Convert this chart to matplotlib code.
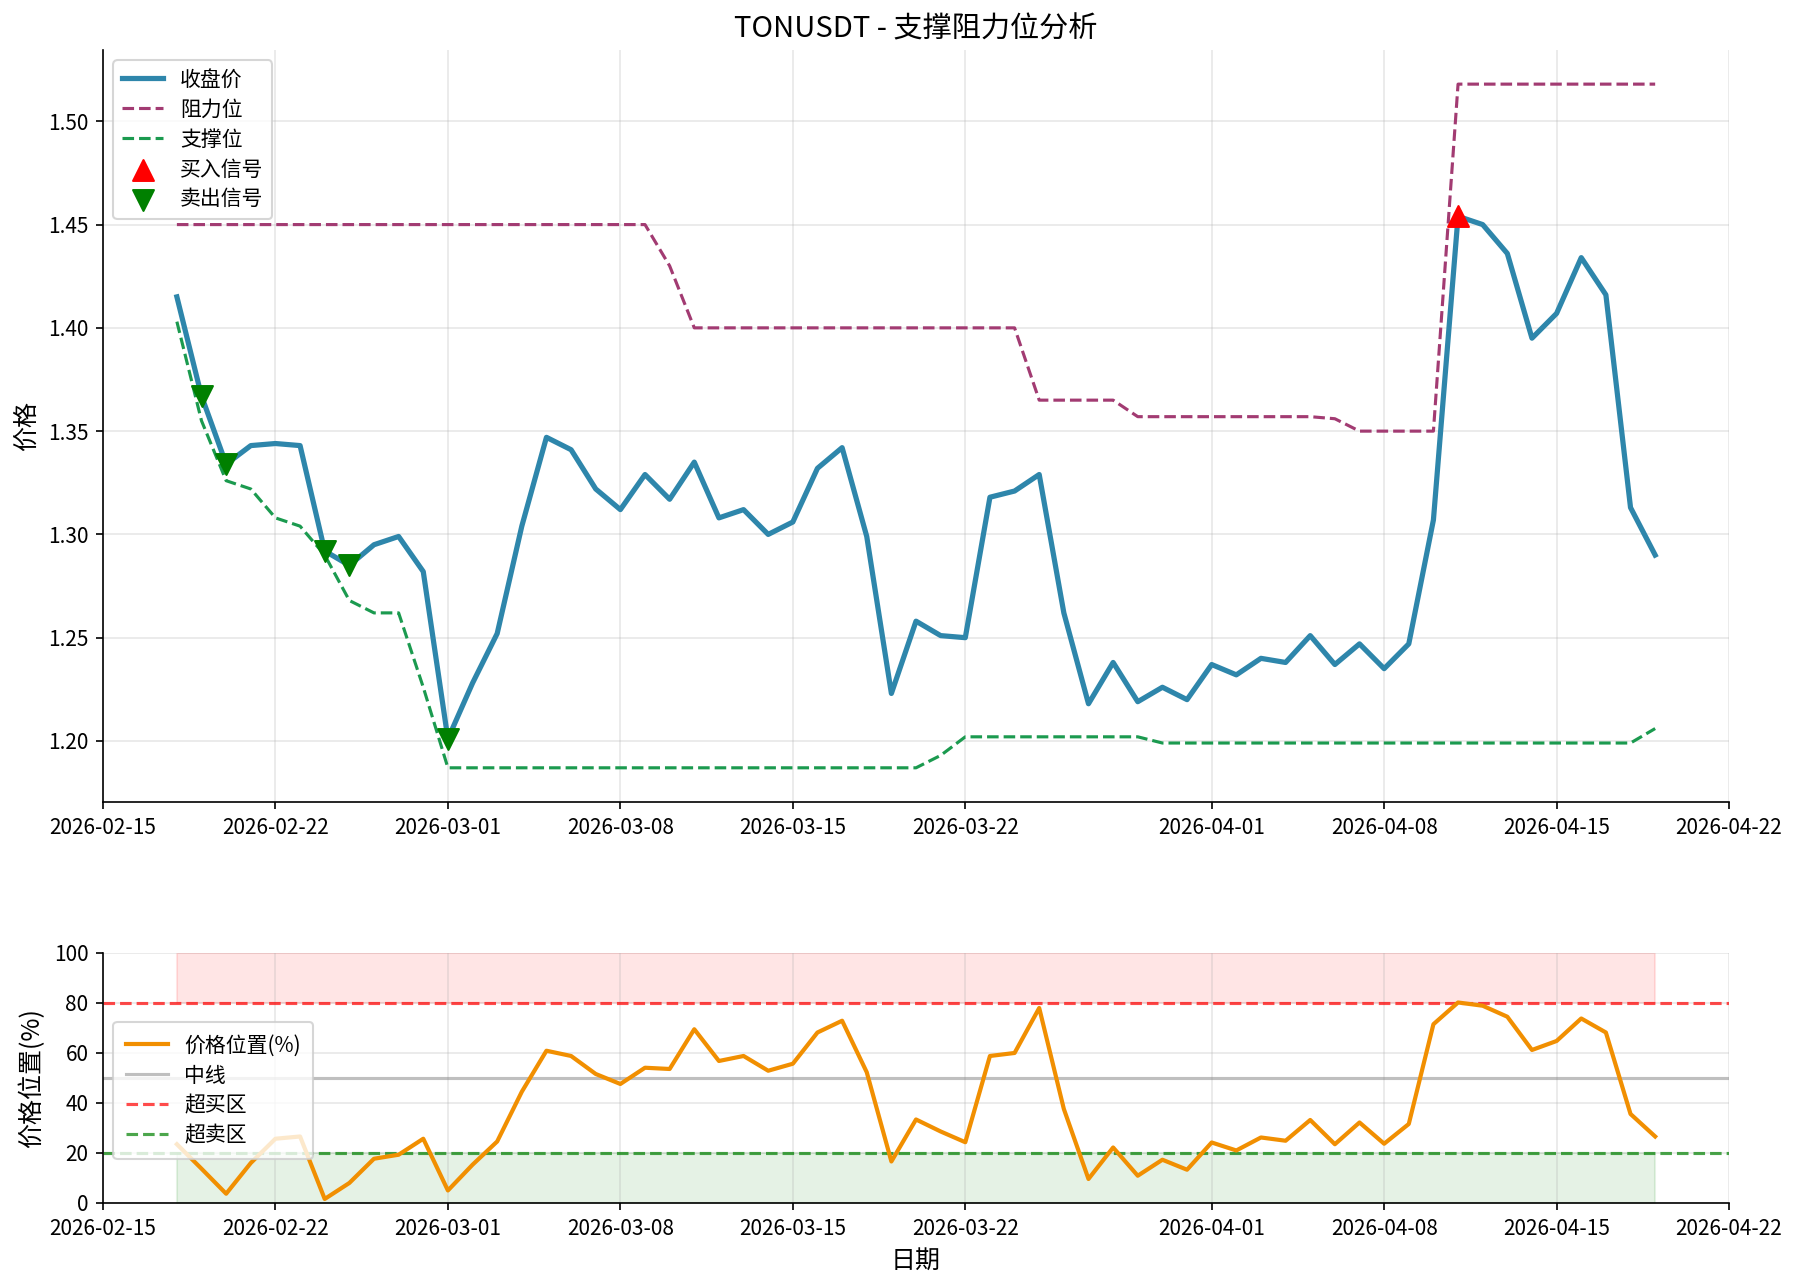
import matplotlib
matplotlib.use("Agg")
import matplotlib.pyplot as plt
import matplotlib.dates as mdates
import numpy as np
import pandas as pd

plt.rcParams['font.family'] = ['Noto Sans CJK SC', 'DejaVu Sans']
plt.rcParams['axes.unicode_minus'] = False

dates = pd.date_range("2026-02-18", "2026-04-19", freq="D")

close = [1.415, 1.367, 1.334, 1.343, 1.344, 1.343, 1.292, 1.285, 1.295, 1.299,
         1.282, 1.201, 1.228, 1.252, 1.304, 1.347, 1.341, 1.322, 1.312, 1.329,
         1.317, 1.335, 1.308, 1.312, 1.300, 1.306, 1.332, 1.342, 1.299, 1.223,
         1.258, 1.251, 1.250, 1.318, 1.321, 1.329, 1.262, 1.218, 1.238, 1.219,
         1.226, 1.220, 1.237, 1.232, 1.240, 1.238, 1.251, 1.237, 1.247, 1.235,
         1.247, 1.307, 1.454, 1.450, 1.436, 1.395, 1.407, 1.434, 1.416, 1.313,
         1.290]

resistance = [1.45] * 20 + [1.430] + [1.40] * 14 + [1.365] * 4 + [1.357] * 8 + \
             [1.356] + [1.350] * 4 + [1.518] * 9

support = [1.403, 1.355, 1.326, 1.322, 1.308, 1.304, 1.290, 1.268, 1.262, 1.262,
           1.226] + [1.187] * 20 + [1.193] + [1.202] * 8 + [1.199] * 20 + [1.206]

position = [23.5, 13.7, 3.7, 16.0, 25.7, 26.6, 1.6, 8.0, 17.7, 19.3,
            25.7, 5.0, 15.3, 24.6, 44.5, 60.9, 58.8, 51.6, 47.6, 54.1,
            53.6, 69.5, 56.8, 58.8, 52.9, 55.7, 68.2, 72.9, 52.3, 16.6,
            33.4, 28.6, 24.3, 58.8, 60.0, 78.0, 37.6, 9.6, 22.2, 10.9,
            17.3, 13.3, 24.2, 21.0, 26.2, 24.9, 33.2, 23.5, 32.2, 23.7,
            31.6, 71.5, 80.2, 78.9, 74.5, 61.2, 64.8, 73.8, 68.2, 35.6,
            26.6]

buy_idx = [52]
sell_idx = [1, 2, 6, 7, 11]

fig = plt.figure(figsize=(1797 / 150, 1284 / 150), dpi=150)
ax1 = fig.add_axes([0.0573, 0.3754, 0.9049, 0.5857])
ax2 = fig.add_axes([0.0573, 0.0631, 0.9049, 0.1947])

close_a = np.array(close)
ax1.plot(dates, close, color='#2E86AB', lw=2.5, label='收盘价', zorder=3)
ax1.plot(dates, resistance, color='#A23B72', ls='--', lw=1.5, label='阻力位', zorder=2)
ax1.plot(dates, support, color='#1B9A4F', ls='--', lw=1.5, label='支撑位', zorder=2)
ax1.scatter(dates[buy_idx], close_a[buy_idx], marker='^', color='red', s=100,
            label='买入信号', zorder=5)
ax1.scatter(dates[sell_idx], close_a[sell_idx], marker='v', color='green', s=100,
            label='卖出信号', zorder=5)
ax1.set_title('TONUSDT - 支撑阻力位分析', fontsize=14)
ax1.set_ylabel('价格', fontsize=12)
ax1.legend(loc='upper left', fontsize=10, labelspacing=0.38)
ax1.grid(True, alpha=0.3)
ax1.spines['top'].set_visible(False)
ax1.spines['right'].set_visible(False)
ax1.xaxis.set_major_locator(mdates.AutoDateLocator())
ax1.xaxis.set_major_formatter(mdates.DateFormatter('%Y-%m-%d'))
ax1.tick_params(labelsize=10)

ax2.plot(dates, position, color='#F18F01', lw=2, label='价格位置(%)', zorder=3)
ax2.axhline(50, color='gray', alpha=0.5, lw=1.5, label='中线')
ax2.axhline(80, color='red', ls='--', alpha=0.7, lw=1.5, label='超买区')
ax2.axhline(20, color='green', ls='--', alpha=0.7, lw=1.5, label='超卖区')
ax2.fill_between(dates, 80, 100, color='red', alpha=0.1)
ax2.fill_between(dates, 0, 20, color='green', alpha=0.1)
ax2.set_ylim(0, 100)
ax2.set_xlim(ax1.get_xlim())
ax2.set_ylabel('价格位置(%)', fontsize=12)
ax2.set_xlabel('日期', fontsize=12)
ax2.legend(loc='center left', bbox_to_anchor=(0.0, 0.45), fontsize=10,
           labelspacing=0.38, borderpad=0.6)
ax2.grid(True, alpha=0.3)
ax2.spines['top'].set_visible(False)
ax2.spines['right'].set_visible(False)
ax2.xaxis.set_major_locator(mdates.AutoDateLocator())
ax2.xaxis.set_major_formatter(mdates.DateFormatter('%Y-%m-%d'))
ax2.tick_params(labelsize=10)

fig.savefig('out.png', dpi=150)
